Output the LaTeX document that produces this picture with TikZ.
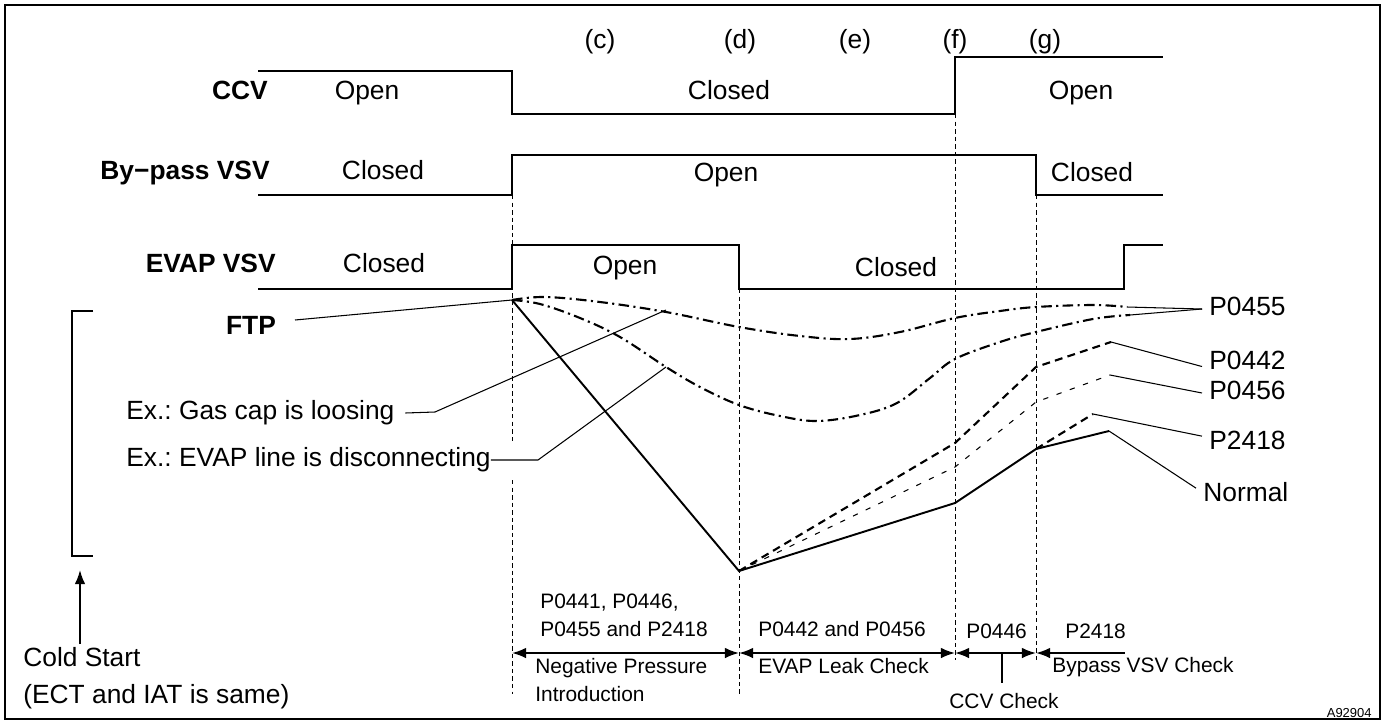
\documentclass[tikz,border=0pt]{standalone}
\usepackage{fontspec}
\setmainfont{Liberation Sans}
\usetikzlibrary{arrows.meta}
\frenchspacing

\tikzset{
  sig/.style={line width=1.1pt},
  lead/.style={line width=0.6pt},
  guide/.style={line width=0.5pt, dash pattern=on 2.5pt off 1.8pt},
  dashdot/.style={line width=1.2pt, dash pattern=on 6pt off 2.5pt on 1.2pt off 2.5pt},
  bigdash/.style={line width=1.2pt, dash pattern=on 4.5pt off 3pt},
  smalldash/.style={line width=0.6pt, dash pattern=on 3pt off 5pt},
  lbl/.style={font=\fontsize{15}{17}\selectfont, inner sep=0pt, text height=1.4ex, text depth=0pt},
  signame/.style={lbl, font=\fontsize{15}{17}\selectfont\bfseries, anchor=east},
  code/.style={lbl, anchor=west, inner xsep=4pt},
  small/.style={font=\fontsize{11.9}{14}\selectfont, inner sep=0pt, text height=1.4ex, text depth=0pt, anchor=west},
}

\begin{document}
\begin{tikzpicture}[x=0.02cm, y=-0.02cm, >={Latex[length=8pt,width=6pt]}]
\useasboundingbox (0,0) rectangle (1386,724);
\draw[line width=1.4pt] (5,5) rectangle (1380,719);

% step names and states
\node[signame] (ccv) at (268,93) {CCV};
\node[signame] (bypass) at (270,173) {By−pass VSV};
\node[signame] (evap) at (276,266) {EVAP VSV};
\node[lbl] (ccv open) at (367,93) {Open};
\node[lbl] (ccv closed) at (729,93) {Closed};
\node[lbl] (ccv open2) at (1081,93) {Open};
\node[lbl] (bp closed) at (383,173) {Closed};
\node[lbl] (bp open) at (726,175) {Open};
\node[lbl] (bp closed2) at (1092,175) {Closed};
\node[lbl] (ev closed) at (384,266) {Closed};
\node[lbl] (ev open) at (625,268) {Open};
\node[lbl] (ev closed2) at (896,270) {Closed};

\foreach \x/\t in {600/c,740/d,855/e,955/f,1045/g}
{
    \node[lbl] (tag-\t) at (\x,42) {(\t)};
}

\draw[sig] (258,71) -- (512,71) -- (512,114) -- (955,114) -- (955,57) -- (1163,57);
\draw[sig] (258,195) -- (512,195) -- (512,155) -- (1036,155) -- (1036,195) -- (1163,195);
\draw[sig] (258,289) -- (512,289) -- (512,245) -- (739,245) -- (739,289) -- (1124,289) -- (1124,245) -- (1163,245);

% phase guides
\draw[guide] (512,195) -- (512,442);
\draw[guide] (512,480) -- (512,694);
\draw[guide] (739,289) -- (739,694);
\draw[guide] (955,114) -- (955,660);
\draw[guide] (1036,195) -- (1036,660);

% FTP traces
\coordinate (start) at (512,300);
\coordinate (bottom) at (739,571);
\coordinate (knee) at (1036,449);
\draw[dashdot] plot[smooth, tension=0.6] coordinates {(512,300) (545,297) (600,302) (666,312) (739,327) (800,336) (850,339) (900,332) (955,318) (1000,311) (1036,307) (1093,305) (1127,307)};
\coordinate (up end) at (1127,307);
\draw[dashdot] plot[smooth, tension=0.6] coordinates {(512,300) (540,304) (580,318) (620,337) (666,367) (700,387) (739,405) (780,416) (817,421) (860,415) (897,403) (930,378) (955,359) (1000,342) (1036,332) (1093,319) (1130,315)};
\coordinate (low end) at (1130,315);
\draw[sig] (start) -- (bottom) -- (955,503) -- (knee) -- (1109,431) coordinate (normal end);
\draw[bigdash] (bottom) -- (955,443) -- (1036,367) -- (1111,342) coordinate (p42 end);
\draw[smalldash] (bottom) -- (955,467) -- (1036,402) -- (1110,375) coordinate (p56 end);
\draw[bigdash] (knee) -- (1093,414) coordinate (p18 end);

\node[code] (p0455) at (1202,309) {P0455};
\node[code] (p0442) at (1202,363) {P0442};
\node[code] (p0456) at (1202,393) {P0456};
\node[code] (p2418) at (1202,443) {P2418};
\node[code] (normal) at (1196,495) {Normal};
\draw[lead] (up end) -- (p0455.west);
\draw[lead] (low end) -- (p0455.west);
\draw[lead] (p42 end) -- ([yshift=-2pt]p0442.west);
\draw[lead] (p56 end) -- (p0456.west);
\draw[lead] (p18 end) -- (p2418.north west);
\draw[lead] (normal end) -- (normal.north west);

% left side labels
\node[lbl, font=\fontsize{15}{17}\selectfont\bfseries] (ftp) at (251,328) {FTP};
\coordinate (ftp tip) at (295,320);
\draw[lead] (ftp tip) -- (start);
\node[lbl, anchor=west] (gascap) at (126,413) {Ex.: Gas cap is loosing};
\coordinate (gas pt) at (666,310);
\draw[lead] ([xshift=6pt]gascap.east) -- (435,412) -- (gas pt);
\node[lbl, anchor=west] (disc) at (126,460) {Ex.: EVAP line is disconnecting};
\coordinate (disc pt) at (666,367);
\draw[lead] (disc.east) -- (538,460) -- (disc pt);

\draw[lead] (93,311) -- (72,311) -- (72,556) -- (93,556);
\node[lbl, anchor=west] (cold) at (23,660) {Cold Start};
\node[lbl, anchor=west] (same) at (23,697) {(ECT and IAT is same)};
\coordinate (bracket foot) at (80,570);
\draw[->, line width=1pt] (80,644) -- (bracket foot);

% check phases
\draw[<->, line width=1pt] (512,653) -- (739,653);
\draw[<->, line width=1pt] (739,653) -- (955,653);
\draw[<->, line width=1pt] (955,653) -- (1036,653);
\draw[<-, line width=1pt] (1036,653) -- (1125,653);
\draw[lead] (1002,653) -- (1002,683);

\node[small] (dtc a) at (540,602) {P0441, P0446,};
\node[small] (dtc b) at (540,630) {P0455 and P2418};
\node[small] (neg a) at (535,667) {Negative Pressure};
\node[small] (neg b) at (535,695) {Introduction};
\node[small] (dtc c) at (758,630) {P0442 and P0456};
\node[small] (leak) at (758,667) {EVAP Leak Check};
\node[small] (dtc d) at (966,632) {P0446};
\node[small] (dtc e) at (1065,632) {P2418};
\node[small] (bpcheck) at (1052,666) {Bypass VSV Check};
\node[small, anchor=center] (ccvcheck) at (1004,702) {CCV Check};
\node[font=\fontsize{7.4}{9}\selectfont, inner sep=0pt, anchor=east] (fig) at (1372,713) {A92904};

\end{tikzpicture}
\end{document}
